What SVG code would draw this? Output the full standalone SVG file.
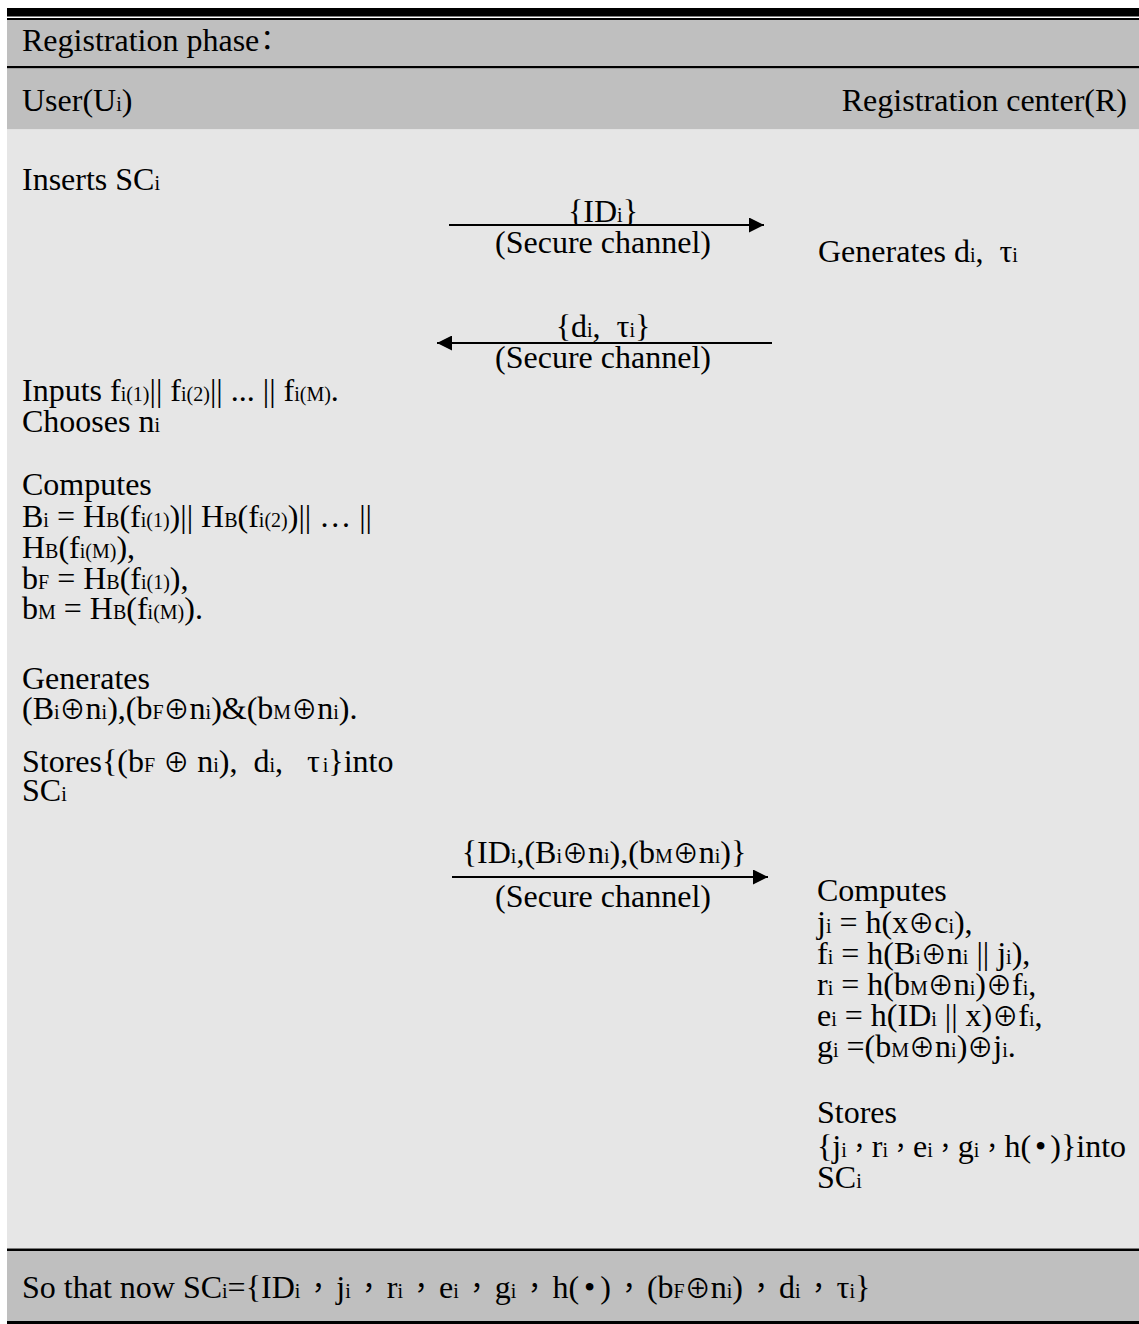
<svg xmlns="http://www.w3.org/2000/svg" width="1139" height="1324" viewBox="0 0 1139 1324">
<style>
.t{font-family:"Liberation Serif","DejaVu Serif","Noto Sans CJK TC",serif;font-size:32px;fill:#000}
.s{font-size:20px}
.o{font-family:"Noto Sans CJK TC","DejaVu Sans",sans-serif;font-size:26px}
.c{font-family:"Noto Sans CJK TC",sans-serif;font-size:28px}
.c2{font-family:"Noto Sans CJK TC",sans-serif;font-size:25px}
.cw{font-family:"Noto Sans CJK TC",sans-serif;font-size:28px;letter-spacing:4px}
.m{text-anchor:middle}
.hdr{fill:#bfbfbf}
.body{fill:#e6e6e6}
.rule{fill:#000}
.ln{stroke:#000;stroke-width:2;fill:none}
</style>
<defs>
<marker id="ah" viewBox="0 0 15 15" refX="15" refY="7.5" markerWidth="15" markerHeight="15" markerUnits="userSpaceOnUse" orient="auto"><path d="M0,0 L15,7.5 L0,15 z" fill="#000"/></marker>
</defs>
<rect width="1139" height="1324" fill="#fff"/>
<g id="frame">
<rect class="rule" x="7" y="8" width="1132" height="8.5"/>
<rect class="rule" x="7" y="18" width="1132" height="2"/>
<rect class="hdr" x="7" y="20" width="1132" height="46"/>
<rect class="rule" x="7" y="66" width="1132" height="2.5"/>
<rect class="hdr" x="7" y="68.5" width="1132" height="61"/>
<rect class="body" x="7" y="129.5" width="1132" height="1119"/>
<rect class="rule" x="7" y="1248.5" width="1132" height="2.5"/>
<rect class="hdr" x="7" y="1251" width="1132" height="70"/>
<rect class="rule" x="7" y="1321" width="1132" height="3"/>
</g>
<g id="title"><text class="t" x="22" y="51">Registration phase<tspan class="c" dx="-6">：</tspan></text></g>
<g id="user-header"><text class="t" x="22" y="111">User(U<tspan class="s">i</tspan>)</text></g>
<g id="rc-header"><text class="t" x="1127" y="111" text-anchor="end">Registration center(R)</text></g>
<g id="user-insert"><text class="t" x="22" y="190">Inserts SC<tspan class="s">i</tspan></text></g>
<g id="rc-generate"><text class="t" x="818" y="262" xml:space="preserve">Generates d<tspan class="s">i</tspan>,  τ<tspan class="s">i</tspan></text></g>
<g id="user-input">
<text class="t" x="22" y="401">Inputs f<tspan class="s">i(1)</tspan>|| f<tspan class="s">i(2)</tspan>|| ... || f<tspan class="s">i(M)</tspan>.</text>
<text class="t" x="22" y="432">Chooses n<tspan class="s">i</tspan></text>
</g>
<g id="user-compute">
<text class="t" x="22" y="495">Computes</text>
<text class="t" x="22" y="527">B<tspan class="s">i</tspan> = H<tspan class="s">B</tspan>(f<tspan class="s">i(1)</tspan>)|| H<tspan class="s">B</tspan>(f<tspan class="s">i(2)</tspan>)|| … ||</text>
<text class="t" x="22" y="558">H<tspan class="s">B</tspan>(f<tspan class="s">i(M)</tspan>),</text>
<text class="t" x="22" y="589">b<tspan class="s">F</tspan> = H<tspan class="s">B</tspan>(f<tspan class="s">i(1)</tspan>),</text>
<text class="t" x="22" y="619">b<tspan class="s">M</tspan> = H<tspan class="s">B</tspan>(f<tspan class="s">i(M)</tspan>).</text>
</g>
<g id="user-generate">
<text class="t" x="22" y="689">Generates</text>
<text class="t" x="22" y="719">(B<tspan class="s">i</tspan><tspan class="o">⊕</tspan>n<tspan class="s">i</tspan>),(b<tspan class="s">F</tspan><tspan class="o">⊕</tspan>n<tspan class="s">i</tspan>)&amp;(b<tspan class="s">M</tspan><tspan class="o">⊕</tspan>n<tspan class="s">i</tspan>).</text>
</g>
<g id="user-store">
<text class="t" x="22" y="772" xml:space="preserve">Stores{(b<tspan class="s">F</tspan> <tspan class="o">⊕</tspan> n<tspan class="s">i</tspan>),  d<tspan class="s">i</tspan>,   τ<tspan class="s" dx="3">i</tspan>}into</text>
<text class="t" x="22" y="801">SC<tspan class="s">i</tspan></text>
</g>
<g id="rc-compute">
<text class="t" x="817" y="901">Computes</text>
<text class="t" x="817" y="933">j<tspan class="s">i</tspan> = h(x<tspan class="o">⊕</tspan>c<tspan class="s">i</tspan>),</text>
<text class="t" x="817" y="964">f<tspan class="s">i</tspan> = h(B<tspan class="s">i</tspan><tspan class="o">⊕</tspan>n<tspan class="s">i</tspan> || j<tspan class="s">i</tspan>),</text>
<text class="t" x="817" y="995">r<tspan class="s">i</tspan> = h(b<tspan class="s">M</tspan><tspan class="o">⊕</tspan>n<tspan class="s">i</tspan>)<tspan class="o">⊕</tspan>f<tspan class="s">i</tspan>,</text>
<text class="t" x="817" y="1026">e<tspan class="s">i</tspan> = h(ID<tspan class="s">i</tspan> || x)<tspan class="o">⊕</tspan>f<tspan class="s">i</tspan>,</text>
<text class="t" x="817" y="1057">g<tspan class="s">i</tspan> =(b<tspan class="s">M</tspan><tspan class="o">⊕</tspan>n<tspan class="s">i</tspan>)<tspan class="o">⊕</tspan>j<tspan class="s">i</tspan>.</text>
</g>
<g id="rc-store">
<text class="t" x="817" y="1123">Stores</text>
<text class="t" x="817" y="1157">{j<tspan class="s">i</tspan><tspan class="c2">，</tspan>r<tspan class="s">i</tspan><tspan class="c2">，</tspan>e<tspan class="s">i</tspan><tspan class="c2">，</tspan>g<tspan class="s">i</tspan><tspan class="c2">，</tspan>h(<tspan dx="4">•</tspan><tspan dx="4">)</tspan>}into</text>
<text class="t" x="817" y="1188">SC<tspan class="s">i</tspan></text>
</g>
<g id="summary">
<text class="t" x="22" y="1298">So that now SC<tspan class="s">i</tspan>={ID<tspan class="s">i</tspan><tspan class="cw" dx="4">，</tspan>j<tspan class="s">i</tspan><tspan class="cw" dx="4">，</tspan>r<tspan class="s">i</tspan><tspan class="cw" dx="4">，</tspan>e<tspan class="s">i</tspan><tspan class="cw" dx="4">，</tspan>g<tspan class="s">i</tspan><tspan class="cw" dx="4">，</tspan>h(<tspan dx="5">•</tspan><tspan dx="5">)</tspan><tspan class="cw" dx="4">，</tspan>(b<tspan class="s">F</tspan><tspan class="o">⊕</tspan>n<tspan class="s">i</tspan>)<tspan class="cw" dx="4">，</tspan>d<tspan class="s">i</tspan><tspan class="cw" dx="4">，</tspan>τ<tspan class="s">i</tspan>}</text>
</g>
<g id="connectors">
<line class="ln" x1="449" y1="225" x2="764" y2="225" marker-end="url(#ah)"/>
<text class="t m" x="603" y="222">{ID<tspan class="s">i</tspan>}</text>
<text class="t m" x="603" y="253">(Secure channel)</text>
<line class="ln" x1="772" y1="343" x2="437" y2="343" marker-end="url(#ah)"/>
<text class="t m" x="603" y="337" xml:space="preserve">{d<tspan class="s">i</tspan>,  τ<tspan class="s">i</tspan>}</text>
<text class="t m" x="603" y="368">(Secure channel)</text>
<line class="ln" x1="452" y1="877" x2="768" y2="877" marker-end="url(#ah)"/>
<text class="t m" x="604" y="863">{ID<tspan class="s">i</tspan>,(B<tspan class="s">i</tspan><tspan class="o">⊕</tspan>n<tspan class="s">i</tspan>),(b<tspan class="s">M</tspan><tspan class="o">⊕</tspan>n<tspan class="s">i</tspan>)}</text>
<text class="t m" x="603" y="907">(Secure channel)</text>
</g>
</svg>
